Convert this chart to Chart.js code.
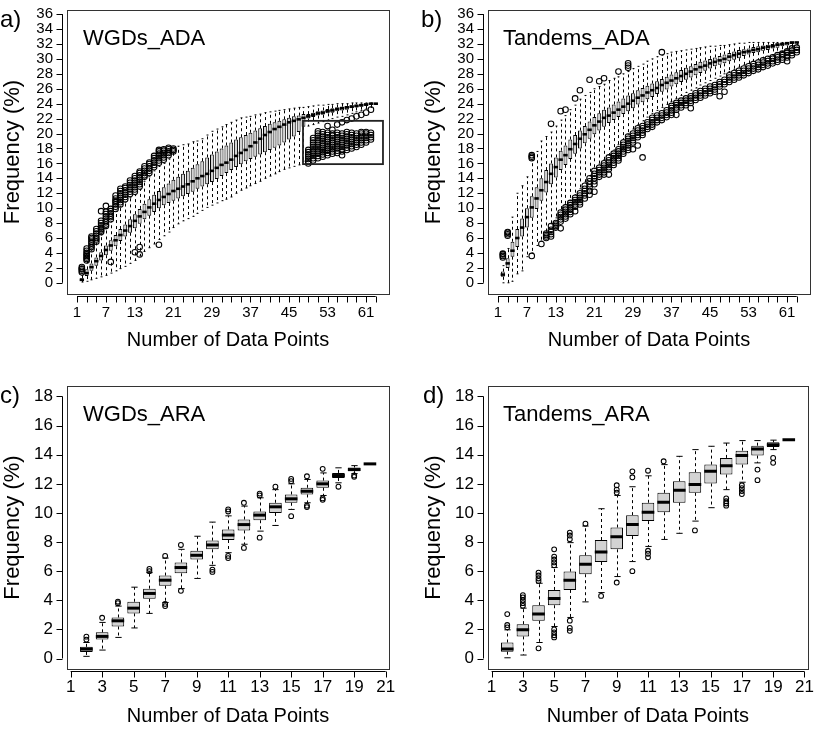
<!DOCTYPE html>
<html><head><meta charset="utf-8">
<script src="https://cdn.jsdelivr.net/npm/chart.js@4.4.0/dist/chart.umd.min.js"></script>
<style>
html,body{margin:0;padding:0;background:#fff;}
#wrap{position:relative;width:817px;height:729px;overflow:hidden;font-family:"Liberation Sans",Arial,sans-serif;color:#000;}
.pane{position:absolute;}
.pane canvas{display:block;}
.lbl{position:absolute;font-size:24px;line-height:24px;white-space:nowrap;}
.ttl{position:absolute;font-size:22px;line-height:22px;white-space:nowrap;}
</style></head><body>
<div id="wrap">
  <div class="pane" style="left:0;top:0;width:408px;height:364px"><canvas id="ca" width="408" height="364"></canvas></div>
  <div class="pane" style="left:409px;top:0;width:408px;height:364px"><canvas id="cb" width="408" height="364"></canvas></div>
  <div class="pane" style="left:0;top:364px;width:408px;height:365px"><canvas id="cc" width="408" height="365"></canvas></div>
  <div class="pane" style="left:409px;top:364px;width:408px;height:365px"><canvas id="cd" width="408" height="365"></canvas></div>
  <div class="lbl" style="left:0;top:7px">a)</div>
  <div class="lbl" style="left:421px;top:7px">b)</div>
  <div class="lbl" style="left:0;top:383px">c)</div>
  <div class="lbl" style="left:423px;top:383px">d)</div>
  <div class="ttl" style="left:83px;top:27px">WGDs_ADA</div>
  <div class="ttl" style="left:503px;top:27px">Tandems_ADA</div>
  <div class="ttl" style="left:83px;top:403px">WGDs_ARA</div>
  <div class="ttl" style="left:503px;top:403px">Tandems_ARA</div>
</div>
<script>
// ---------- tick values / labels ----------
const xTicksTop = [1,3,5,7,9,11,13,15,17,19,21,23,25,27,29,31,33,35,37,39,41,43,45,47,49,51,53,55,57,59,61,63];
const xLabelsTop = [1,7,13,21,29,37,45,53,61];
const yTicksTop = [0,2,4,6,8,10,12,14,16,18,20,22,24,26,28,30,32,34,36];
const xTicksBottom = [1,3,5,7,9,11,13,15,17,19,21];
const xLabelsBottom = [1,3,5,7,9,11,13,15,17,19,21];
const yTicksBottom = [0,2,4,6,8,10,12,14,16,18];

// ---------- categories (number of data points) ----------
const posADA = [2,3,4,5,6,7,8,9,10,11,12,13,14,15,16,17,18,19,20,21,22,23,24,25,26,27,28,29,30,31,32,33,34,35,36,37,38,39,40,41,42,43,44,45,46,47,48,49,50,51,52,53,54,55,56,57,58,59,60,61,62,63];
const posARA = [2,3,4,5,6,7,8,9,10,11,12,13,14,15,16,17,18,19,20];

// ---------- a) WGDs_ADA ----------
const loA  = [0.1,0.2,0.4,0.6,0.8,1.0,1.3,1.6,1.9,2.2,2.6,3.0,3.6,4.2,4.7,5.2,5.8,6.3,6.8,7.4,7.9,8.3,8.6,8.9,9.3,9.7,10.1,10.4,10.7,11.0,11.2,11.5,12.0,12.4,12.7,13.0,13.3,13.6,14.0,14.3,14.6,14.9,15.2,15.4,15.6,15.8,16.3,21.0,21.2,21.4,21.6,21.8,22.0,22.2,22.3,22.5,22.7,22.9,23.1,23.3,23.5,23.9];
const q1A  = [0.3,0.9,1.6,2.3,3.0,3.7,4.3,4.9,5.6,6.2,6.7,7.3,7.9,8.5,9.0,9.5,10.0,10.4,10.7,11.0,11.3,11.6,11.9,12.2,12.6,12.9,13.2,13.5,13.9,14.3,14.7,15.1,15.5,15.9,16.3,16.6,16.9,17.2,17.5,17.8,18.1,18.4,18.8,19.2,19.6,20.2,20.9,22.0,22.2,22.4,22.5,22.7,22.8,23.0,23.1,23.2,23.4,23.5,23.6,23.7,23.9,24.0];
const medA = [0.4,1.3,2.1,2.9,3.6,4.4,5.0,5.7,6.4,7.0,7.6,8.3,8.9,9.5,10.1,10.6,11.1,11.5,11.9,12.3,12.6,12.9,13.2,13.6,14.0,14.3,14.6,15.0,15.4,15.8,16.1,16.5,17.0,17.4,17.8,18.3,18.8,19.3,19.8,20.2,20.6,20.9,21.2,21.5,21.7,21.9,22.1,22.3,22.5,22.7,22.8,23.0,23.1,23.3,23.4,23.5,23.6,23.7,23.8,23.9,24.0,24.0];
const q3A  = [0.6,1.8,2.6,3.4,4.1,5.0,5.7,6.4,7.2,7.8,8.5,9.2,9.9,10.6,11.2,11.8,12.3,12.8,13.3,13.8,14.2,14.6,15.0,15.4,15.9,16.3,16.8,17.2,17.6,18.0,18.4,18.8,19.2,19.5,19.8,20.1,20.4,20.7,21.0,21.3,21.5,21.7,21.9,22.1,22.3,22.4,22.6,22.6,22.8,23.0,23.1,23.3,23.4,23.5,23.6,23.7,23.8,23.9,24.0,24.0,24.1,24.0];
const hiA  = [1.0,2.8,4.3,5.3,6.4,7.3,8.2,9.6,10.2,10.8,11.4,11.8,12.5,13.6,14.2,15.0,15.6,16.0,16.6,17.4,18.3,18.5,18.6,18.9,19.0,19.3,19.8,20.3,20.6,20.9,21.2,21.5,21.8,22.1,22.2,22.3,22.5,22.6,22.8,22.9,23.0,23.1,23.2,23.3,23.4,23.5,23.5,23.6,23.7,23.8,23.8,23.9,23.9,24.0,24.0,24.0,24.1,24.1,24.1,24.1,24.1,24.0];
const outA = [
  [1.4,1.6,1.8,1.9,2.1],[3.0,3.2,3.4,3.6,3.8,4.0,4.3,4.6],[4.5,4.8,5.0,5.3,5.5,5.8,6.0,6.2],[5.5,5.8,6.0,6.3,6.6,6.9,7.2],
  [6.8,7.0,7.2,7.4,7.7,8.0,8.3,9.6],[7.6,7.8,8.1,8.3,8.6,8.9,9.2,9.5,10.3],[2.8,8.5,8.8,9.0,9.3,9.6,9.9],[9.9,10.2,10.5,10.8,11.0,11.3,11.7],
  [10.5,10.8,11.1,11.4,11.7,12.0,12.3,12.6],[11.2,11.5,11.8,12.1,12.4,12.7,12.9],[11.9,12.2,12.5,12.8,13.1,13.4,13.7],
  [4.1,12.2,12.5,12.8,13.1,13.4,13.7,14.0,14.3],[3.8,4.8,12.9,13.2,13.5,13.8,14.1,14.4,14.7,14.9],[14.2,14.4,14.7,15.0,15.3,15.6],
  [14.7,15.0,15.3,15.6,15.9,16.1],[15.5,15.8,16.1,16.4,16.7,17.0],[5.1,16.1,16.4,16.7,17.0,17.3,17.6,17.8],[16.5,16.8,17.1,17.4,17.7,17.9],
  [17.1,17.4,17.6,17.9,18.1],[17.6,17.8,18.0],
  [],[],[],[],[],[],[],[],[],[],[],[],[],[],[],[],[],[],[],[],[],[],[],[],[],[],[],
  [16.0,16.3,16.6,16.9,17.2,17.5,17.8],[16.4,16.7,17.0,17.3,17.6,17.9,18.2,18.5,18.8,19.1,19.4],
  [16.7,17.0,17.3,17.6,17.9,18.2,18.5,18.8,19.1,19.4,19.7,20.0,20.3],[16.9,17.2,17.5,17.8,18.1,18.4,18.7,19.0,19.3,19.6,19.9,20.2],
  [17.1,17.4,17.7,18.0,18.3,18.6,18.9,19.2,19.5,19.8,20.1,21.0],[17.3,17.6,17.9,18.2,18.5,18.8,19.1,19.4,19.7,20.0,20.5],
  [17.4,17.7,18.0,18.3,18.6,18.9,19.2,19.5,19.8,20.1,21.2],[17.1,17.6,17.9,18.2,18.5,18.8,19.1,19.4,19.7,20.0,21.5],
  [17.8,18.1,18.4,18.7,19.0,19.3,19.6,19.9,20.2,21.8],[18.0,18.3,18.6,18.9,19.2,19.5,19.8,20.1,22.0],
  [18.2,18.5,18.8,19.1,19.4,19.7,20.0,22.3],[18.5,18.8,19.1,19.4,19.7,20.0,20.2,22.5],
  [18.8,19.1,19.4,19.7,20.0,20.2,22.8],[19.2,19.5,19.8,20.1,23.2],[]
];
const insetA = {x0:47.9, x1:64.5, y0:15.9, y1:21.7};

// ---------- b) Tandems_ADA ----------
const loB  = [0.0,0.0,0.2,1.2,1.6,3.5,4.0,5.0,5.6,6.8,7.9,8.7,9.7,10.5,11.0,11.8,12.6,13.5,14.3,15.3,15.9,16.5,17.1,17.8,18.5,19.2,19.9,20.6,21.2,21.7,22.2,22.7,23.1,23.5,23.9,24.3,24.7,25.1,25.5,25.8,26.1,26.5,26.8,27.1,27.4,27.7,28.0,28.3,28.6,28.9,29.2,29.4,29.7,29.9,30.1,30.3,30.5,30.8,31.0,31.2,31.5,31.9];
const q1B  = [0.8,2.0,3.5,4.8,6.2,7.4,8.7,9.9,11.0,12.1,13.2,14.1,15.1,15.8,16.6,17.3,18.0,18.7,19.3,19.9,20.4,20.9,21.4,21.8,22.2,22.6,23.0,23.4,23.9,24.2,24.6,24.9,25.3,25.6,25.9,26.3,26.6,26.9,27.2,27.5,27.8,28.1,28.4,28.7,29.0,29.2,29.4,29.7,29.9,30.1,30.4,30.6,30.8,30.9,31.1,31.2,31.4,31.5,31.7,31.8,32.0,32.2];
const medB = [1.1,2.6,4.3,6.0,7.4,8.8,10.1,11.3,12.4,13.5,14.6,15.5,16.5,17.1,17.9,18.6,19.3,19.9,20.5,21.1,21.6,22.1,22.4,22.8,23.2,23.6,24.0,24.4,24.8,25.1,25.5,25.8,26.1,26.5,26.8,27.1,27.4,27.7,28.0,28.3,28.6,28.9,29.1,29.4,29.6,29.8,30.0,30.3,30.5,30.7,30.9,31.0,31.2,31.3,31.5,31.6,31.7,31.9,32.0,32.1,32.2,32.2];
const q3B  = [1.5,3.3,5.5,7.2,8.6,10.0,11.6,12.8,14.0,15.1,16.0,16.8,17.7,18.4,19.2,19.8,20.4,21.0,21.6,22.2,22.7,23.2,23.5,23.9,24.3,24.7,25.1,25.4,25.8,26.1,26.4,26.7,27.0,27.3,27.6,27.9,28.2,28.5,28.8,29.0,29.3,29.6,29.8,30.0,30.2,30.4,30.6,30.8,31.0,31.2,31.3,31.4,31.6,31.7,31.8,31.9,32.0,32.1,32.1,32.2,32.2,32.2];
const hiB  = [2.3,4.6,8.8,12.0,13.0,14.2,16.4,17.6,19.0,19.6,20.2,21.0,21.8,22.4,23.2,23.8,24.6,25.1,25.5,26.0,26.3,26.6,27.1,27.4,27.6,28.0,28.3,28.7,29.0,29.3,29.7,30.0,30.3,30.5,30.7,30.9,31.0,31.1,31.2,31.3,31.4,31.5,31.6,31.7,31.7,31.8,31.8,31.9,32.0,32.1,32.1,32.2,32.2,32.2,32.2,32.2,32.2,32.2,32.2,32.2,32.2,32.2];
const outB = [
  [3.4,3.6,3.8,3.9],[6.3,6.5,6.7,6.8],[],[],[],[],[3.6,16.7,16.9,17.1],[],[5.2],[6.0,6.2,6.4,6.6],
  [6.2,6.5,6.8,7.1,7.6,21.3],[7.4,7.6,7.8,8.0],[7.3,8.2,8.5,8.8,9.1,9.4,23.0],[8.6,8.9,9.2,9.5,9.8,10.1,23.2],[9.2,9.5,9.8,10.1,10.4,10.7],
  [9.6,10.2,10.5,10.8,11.1,11.4,24.7],[10.5,10.8,11.1,11.4,11.7,12.0,25.8],[11.3,11.7,12.0,12.3,12.6,13.0],[11.8,12.3,12.8,13.2,13.6,14.0,27.2],[12.2,13.2,13.6,14.0,14.3,14.6,15.0],
  [14.2,14.5,14.8,15.1,15.4,27.0],[14.5,14.8,15.1,15.4,15.7,16.0,27.4],[14.5,15.2,15.5,15.8,16.1,16.4,16.8],[15.8,16.1,16.4,16.7,17.0,17.3],[16.4,16.7,17.0,17.3,17.6,17.9,28.3],
  [17.3,17.6,17.9,18.2,18.5,18.8],[17.8,18.1,18.4,18.7,19.0,19.3,19.6,28.8,29.1,29.4],[17.9,18.8,19.1,19.4,19.7,20.0],[18.4,19.5,19.8,20.1,20.4,20.7],[16.8,19.8,20.1,20.4,20.7,21.0],
  [20.6,20.9,21.2,21.5],[20.9,21.2,21.5,21.8,22.1],[21.5,21.8,22.1,22.4],[21.8,22.1,22.4,22.7,30.9],[22.2,22.5,22.8,23.1],
  [22.5,22.8,23.1,23.4,23.7],[22.5,23.2,23.5,23.8,24.1],[23.5,23.8,24.1,24.4],[23.8,24.1,24.4,24.7],[23.4,24.1,24.4,24.7,25.0],
  [24.5,24.8,25.1,25.4],[24.8,25.1,25.4,25.7],[25.1,25.4,25.7,26.0],[25.4,25.7,26.0,26.3],[25.6,25.9,26.2,26.5],
  [25.0,26.3,26.6,26.9],[25.6,26.6,26.9,27.2],[26.9,27.2,27.5,27.8],[27.2,27.5,27.8,28.1],[27.5,27.8,28.1,28.4],
  [27.8,28.1,28.4,28.7],[28.1,28.4,28.7,29.0],[28.4,28.7,29.0,29.3],[28.6,28.9,29.2,29.5],[28.9,29.2,29.5,29.8],
  [29.1,29.4,29.7,30.0],[29.4,29.7,30.0,30.2],[29.6,29.9,30.2,30.5],[29.9,30.2,30.5,30.7],[29.7,30.2,30.5,30.8,31.0],
  [30.5,30.8,31.1,31.4],[30.9,31.2,31.5]
];

// ---------- c) WGDs_ARA ----------
const loC  = [0.15,0.58,1.45,2.1,3.1,3.85,4.8,5.5,6.4,7.27,7.85,8.75,9.14,10.24,10.7,11.2,12.07,12.7,13.37];
const q1C  = [0.45,1.3,2.2,3.1,4.1,5.0,5.85,6.8,7.5,8.14,8.8,9.5,10.0,10.7,11.27,11.73,12.4,12.87,13.37];
const medC = [0.65,1.52,2.59,3.46,4.47,5.38,6.25,7.09,7.8,8.48,9.2,9.85,10.42,10.97,11.49,12.0,12.57,12.98,13.37];
const q3C  = [0.8,1.8,2.82,3.9,4.8,5.7,6.6,7.4,8.1,8.87,9.55,10.1,10.7,11.27,11.73,12.22,12.75,13.12,13.37];
const hiC  = [1.1,2.48,3.6,4.9,5.9,6.9,7.5,8.4,9.37,9.8,10.47,11.04,11.6,12.0,12.3,12.75,13.1,13.25,13.37];
const outC = [[1.3,1.5],[2.8],[3.8,3.9],[],[6.0,6.15],[3.6,3.75,7.05],[4.65,7.8],[],[5.95,6.1],[6.9,7.05,10.1,10.24],
  [7.6,10.7],[8.3,11.2,11.33],[11.8],[9.78,12.18,12.34],[10.4,10.5,12.52],[10.9,11.0,13.03],[11.8],[12.48,12.57],[]];

// ---------- d) Tandems_ARA ----------
const loD  = [0.05,0.24,1.1,2.2,2.82,3.89,4.53,5.63,6.66,7.7,8.18,8.6,9.44,10.36,11.6,12.11,13.44,14.35,15.03];
const q1D  = [0.47,1.52,2.59,3.66,4.71,5.79,6.63,7.5,8.41,9.44,10.05,10.7,11.38,12.02,12.64,13.32,13.94,14.53,15.03];
const medD = [0.65,1.97,3.05,4.12,5.38,6.47,7.32,8.37,9.21,10.05,10.74,11.56,11.95,12.86,13.25,13.94,14.4,14.69,15.03];
const q3D  = [1.1,2.36,3.66,4.71,5.97,7.09,8.14,9.0,9.85,10.7,11.38,12.18,12.8,13.32,13.78,14.28,14.62,14.85,15.03];
const hiD  = [1.97,3.46,5.17,6.25,7.96,9.1,10.29,11.2,11.8,12.55,13.32,13.89,14.35,14.58,14.8,14.97,14.97,15.0,15.03];
const outD = [[2.14,2.3,3.05],[3.62,3.8,4.0,4.2,4.35],[0.7,5.33,5.5,5.7,5.9],[1.45,1.6,1.8,2.0,6.4,6.6,6.8,7.0,7.5],
  [1.9,2.1,2.6,8.2,8.45,8.64],[9.26],[4.3],[5.22,11.4,11.6,11.9],[6.0,12.45,12.86],[6.95,7.2,7.4,12.9],
  [13.55],[],[8.8],[],[10.5,10.65,10.8,11.0],[11.3,11.5,11.7,11.9],[12.25,12.98],[13.44,13.78],[]];

// ---------- drawing ----------
const FONT = "'Liberation Sans', Arial, Helvetica, sans-serif";
Chart.defaults.font.family = FONT;
Chart.defaults.color = '#000';

function boxPlugin(p) {
  return {
    id: 'boxWhisk_' + p.id,
    beforeDatasetsDraw(chart) {
      const {ctx, scales: {x, y}} = chart;
      const half = (x.getPixelForValue(1) - x.getPixelForValue(0)) * 0.4;
      ctx.save();
      ctx.strokeStyle = '#000';
      ctx.lineWidth = 1;
      p.pos.forEach((v, i) => {
        const px = Math.round(x.getPixelForValue(v)) + 0.5;
        ctx.setLineDash(p.dash);
        ctx.beginPath();
        ctx.moveTo(px, y.getPixelForValue(p.q3[i])); ctx.lineTo(px, y.getPixelForValue(p.hi[i]));
        ctx.moveTo(px, y.getPixelForValue(p.q1[i])); ctx.lineTo(px, y.getPixelForValue(p.lo[i]));
        ctx.stroke();
        ctx.setLineDash([]);
        ctx.beginPath();
        [p.hi[i], p.lo[i]].forEach(w => {
          const py = y.getPixelForValue(w);
          ctx.moveTo(px - half * 0.5, py); ctx.lineTo(px + half * 0.5, py);
        });
        ctx.stroke();
      });
      ctx.restore();
    },
    afterDraw(chart) {
      const {ctx, chartArea: a, scales: {x, y}} = chart;
      ctx.save();
      ctx.strokeStyle = '#333';
      ctx.lineWidth = 1;
      ctx.strokeRect(Math.round(a.left) + 0.5, Math.round(a.top) + 0.5, Math.round(a.right - a.left), Math.round(a.bottom - a.top));
      ctx.strokeStyle = '#000';
      ctx.beginPath();
      const ax = Math.round(a.left - p.yGap) + 0.5;
      ctx.moveTo(ax, y.getPixelForValue(p.yTicks[0])); ctx.lineTo(ax, y.getPixelForValue(p.yTicks[p.yTicks.length - 1]));
      p.yTicks.forEach(v => { const py = Math.round(y.getPixelForValue(v)) + 0.5; ctx.moveTo(ax, py); ctx.lineTo(ax - 6, py); });
      const ay = Math.round(a.bottom + p.xGap) + 0.5;
      ctx.moveTo(x.getPixelForValue(p.xTicks[0]), ay); ctx.lineTo(x.getPixelForValue(p.xTicks[p.xTicks.length - 1]), ay);
      p.xTicks.forEach(v => { const px = Math.round(x.getPixelForValue(v)) + 0.5; ctx.moveTo(px, ay); ctx.lineTo(px, ay + 6); });
      ctx.stroke();
      if (p.inset) {
        ctx.lineWidth = 1.8;
        ctx.strokeStyle = '#222';
        const r = p.inset;
        const x0 = x.getPixelForValue(r.x0), x1 = x.getPixelForValue(r.x1);
        const y0 = y.getPixelForValue(r.y0), y1 = y.getPixelForValue(r.y1);
        ctx.strokeRect(x0, y1, x1 - x0, y0 - y1);
      }
      ctx.restore();
    }
  };
}

function makePanel(canvasId, p) {
  const boxes = p.pos.map((v, i) => ({x: v, y: [p.q1[i], p.q3[i]]}));
  const meds = p.pos.map((v, i) => ({x: v, y: p.med[i]}));
  const outs = p.pos.flatMap((v, i) => p.out[i].map(w => ({x: v, y: w})));
  new Chart(document.getElementById(canvasId), {
    type: 'bar',
    data: {datasets: [
      {type: 'scatter', data: outs, order: 0, pointStyle: 'circle', pointRadius: p.outR, pointBorderWidth: 1.05,
       pointBorderColor: '#000', pointBackgroundColor: 'rgba(0,0,0,0)', showLine: false},
      {type: 'scatter', data: meds, order: 1, pointStyle: 'line', pointRadius: p.medR, pointBorderWidth: p.medW,
       pointBorderColor: '#000', showLine: false},
      {type: 'bar', data: boxes, order: 2, backgroundColor: '#d3d3d3', borderColor: '#000', borderWidth: 1,
       borderSkipped: false, barPercentage: 0.8, categoryPercentage: 1, inflateAmount: 0}
    ]},
    options: {
      responsive: false, animation: false, events: [],
      layout: {padding: {left: 0, top: p.padTop, right: p.padRight, bottom: 0}},
      plugins: {legend: {display: false}, tooltip: {enabled: false}},
      scales: {
        x: {
          type: 'linear', min: p.xMin, max: p.xMax, offset: false,
          grid: {display: false, drawTicks: false, offset: false}, border: {display: false},
          afterBuildTicks: s => { s.ticks = p.xTicks.map(v => ({value: v})); },
          afterFit: s => { s.height = p.xH; s.paddingLeft = 0; s.paddingRight = 0; },
          ticks: {autoSkip: false, maxRotation: 0, padding: p.xLabPad, font: {size: p.tickSize},
            callback: v => p.xLabels.includes(v) ? String(v) : ''},
          title: {display: true, text: 'Number of Data Points', font: {size: 20}, padding: {top: 0, bottom: p.xTitlePad}}
        },
        y: {
          type: 'linear', min: p.yMin, max: p.yMax,
          grid: {display: false, drawTicks: false}, border: {display: false},
          afterBuildTicks: s => { s.ticks = p.yTicks.map(v => ({value: v})); },
          afterFit: s => { s.width = p.yW; s.paddingTop = 0; s.paddingBottom = 0; },
          ticks: {autoSkip: false, padding: 14, font: {size: p.tickSize}},
          title: {display: true, text: 'Frequency (%)', font: {size: 22}, padding: {top: p.yTitlePad, bottom: 0}}
        }
      }
    },
    plugins: [boxPlugin(p)]
  });
}

const topCommon = {xTicks: xTicksTop, xLabels: xLabelsTop, yTicks: yTicksTop, xMin: -1.08, xMax: 65.75, yMin: -1.5, yMax: 36.55,
  padTop: 10, xH: 70, tickSize: 15, xLabPad: 10, xTitlePad: 12, outR: 2.8, medR: 2.2, medW: 2.6, dash: [3, 3], yGap: 5, xGap: 2};
const botCommon = {xTicks: xTicksBottom, xLabels: xLabelsBottom, yTicks: yTicksBottom, xMin: 0.77, xMax: 21.21, yMin: -0.72, yMax: 18.72,
  padTop: 22, xH: 60, tickSize: 17, xLabPad: 8, xTitlePad: 1, outR: 2.4, medR: 6.3, medW: 3, dash: [3, 3], yGap: 5, xGap: 2};

makePanel('ca', Object.assign({}, topCommon, {id: 'a', pos: posADA, lo: loA, q1: q1A, med: medA, q3: q3A, hi: hiA, out: outA, inset: insetA,
  yW: 67, padRight: 19, yTitlePad: 0}));
makePanel('cb', Object.assign({}, topCommon, {id: 'b', pos: posADA, lo: loB, q1: q1B, med: medB, q3: q3B, hi: hiB, out: outB,
  yW: 79, padRight: 7, yTitlePad: 12}));
makePanel('cc', Object.assign({}, botCommon, {id: 'c', pos: posARA, lo: loC, q1: q1C, med: medC, q3: q3C, hi: hiC, out: outC,
  yW: 67, padRight: 19, yTitlePad: 0}));
makePanel('cd', Object.assign({}, botCommon, {id: 'd', pos: posARA, lo: loD, q1: q1D, med: medD, q3: q3D, hi: hiD, out: outD,
  yW: 79, padRight: 7, yTitlePad: 12}));
</script>
</body></html>
